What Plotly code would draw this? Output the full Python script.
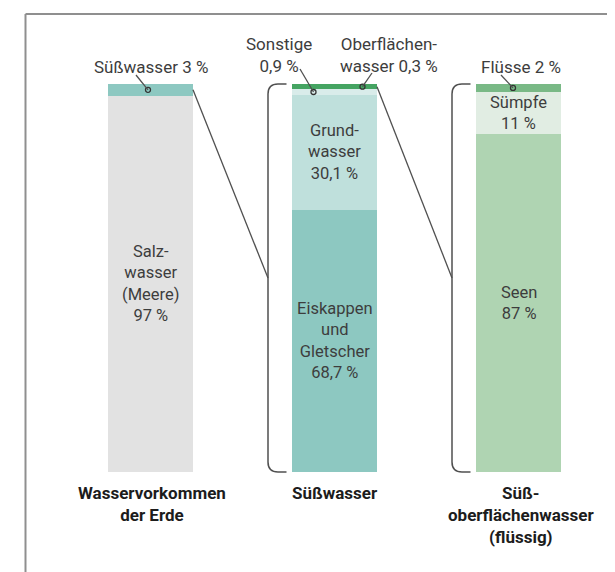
import plotly.graph_objects as go

# ---------------- data ----------------
column_labels = ["Wasservorkommen<br>der Erde", "Süßwasser", "Süß-<br>oberflächenwasser<br>(flüssig)"]

earth_names = ["Salzwasser (Meere)", "Süßwasser"]
earth_values = [97, 3]
earth_inside = ["Salz-<br>wasser<br>(Meere)<br>97 %", None]

fresh_names = ["Eiskappen und Gletscher", "Grundwasser", "Sonstige", "Oberflächenwasser"]
fresh_values = [68.7, 30.1, 0.9, 0.3]
fresh_inside = ["Eiskappen<br>und<br>Gletscher<br>68,7 %", "Grund-<br>wasser<br>30,1 %", None, None]

surface_names = ["Seen", "Sümpfe", "Flüsse"]
surface_values = [87, 11, 2]
surface_inside = ["Seen<br>87 %", "Sümpfe<br>11 %", None]

callout_texts = ["Süßwasser 3 %", "Sonstige<br>0,9 %", "Oberflächen-<br>wasser 0,3 %", "Flüsse 2 %"]

# ---------------- styles ----------------
earth_colors = ["#e2e2e2", "#8dc8c1"]
fresh_colors = ["#8dc8c1", "#bfe0dc", "#d9ecea", "#45a462"]
surface_colors = ["#afd4b2", "#e1ede3", "#79b986"]

PAGE_OFF = 8                        # default page margin around the figure
W, H = 615 - PAGE_OFF, 572 - PAGE_OFF
BAR_C0, BAR_DX = 150.5, 184.0       # screen px centre of first bar, px spacing
BASE_PX, PX_PER_PCT = 472.0, 3.88   # screen px of 0 %, px per 1 %
BAR_W = 85 / BAR_DX
MIN_SHARE = 1.4                     # minimum visible share for tiny segments

def xd(px):  # screen pixel -> x data
    return (px - BAR_C0) / BAR_DX

def yd(py):  # screen pixel -> y data
    return (BASE_PX - py) / PX_PER_PCT

def display(vals):
    v = [max(a, MIN_SHARE) for a in vals]
    s = sum(v)
    return [a * 100 / s for a in v]

columns = [
    (earth_names, earth_values, earth_inside, earth_colors),
    (fresh_names, fresh_values, fresh_inside, fresh_colors),
    (surface_names, surface_values, surface_inside, surface_colors),
]

fig = go.Figure()
annotations = []
shapes = []
mids = []

TXT = "#3d3d3d"
LINE = "#505050"
FONT = "Roboto, 'Open Sans', sans-serif"

label_centres = [152, 335, 521]

for ci, (names, vals, inside, cols) in enumerate(columns):
    disp = display(vals)
    base = 0
    col_mids = []
    for name, v, d, lab, c in zip(names, vals, disp, inside, cols):
        fig.add_trace(go.Bar(
            x=[ci], y=[d], base=[base], width=BAR_W, name=name,
            marker=dict(color=c, line=dict(width=0)),
            hovertemplate=f"{name}: {v} %<extra></extra>".replace(".", ","),
            showlegend=False,
        ))
        col_mids.append(base + d / 2)
        if lab:
            annotations.append(dict(x=ci, y=base + d / 2, text=lab, showarrow=False,
                                    xref="x", yref="y", font=dict(size=16.5, color=TXT, family=FONT),
                                    align="center"))
        base += d
    mids.append(col_mids)
    annotations.append(dict(x=xd(label_centres[ci]), y=yd(481), text=f"<b>{column_labels[ci]}</b>",
                            showarrow=False, xref="x", yref="y", yanchor="top",
                            font=dict(size=17, color="#1c1c1c", family=FONT), align="center"))

# brackets in front of column 1 and 2
for ci in (1, 2):
    xv = ci + xd(BAR_C0 - 66.5)
    xe = ci + xd(BAR_C0 - 48)
    rx, ry = 10 / BAR_DX, 10 / PX_PER_PCT
    yt, yb = 100, 0
    path = (f"M {xe},{yt} L {xv+rx},{yt} Q {xv},{yt} {xv},{yt-ry} "
            f"L {xv},{yb+ry} Q {xv},{yb} {xv+rx},{yb} L {xe},{yb}")
    shapes.append(dict(type="path", path=path, xref="x", yref="y",
                       line=dict(color=LINE, width=1.5)))
    src_mid = mids[ci - 1][-1]
    shapes.append(dict(type="line", xref="x", yref="y",
                       x0=ci - 1 + BAR_W / 2, y0=src_mid, x1=xv, y1=50,
                       line=dict(color=LINE, width=1.3)))

# callouts: (column, segment, text centre px, line start px, dot dx px)
callouts = [
    (0, 1, (150.5, 67), (136, 75), -2.5),
    (1, 2, (278.5, 55), (300, 69), -21),
    (1, 3, (388.5, 55), (372, 73), 28),
    (2, 2, (521, 67), (501, 75), -5.5),
]
dot_x, dot_y, dot_c = [], [], []
for (ci, si, tpos, lpos, ddx), txt in zip(callouts, callout_texts):
    annotations.append(dict(x=xd(tpos[0]), y=yd(tpos[1]), text=txt, showarrow=False,
                            xref="x", yref="y", font=dict(size=17, color=TXT, family=FONT),
                            align="center"))
    dx_ = ci + ddx / BAR_DX
    dy_ = mids[ci][si]
    shapes.append(dict(type="line", xref="x", yref="y", x0=xd(lpos[0]), y0=yd(lpos[1]),
                       x1=dx_, y1=dy_, line=dict(color=LINE, width=1.3)))
    dot_x.append(dx_)
    dot_y.append(dy_)
    dot_c.append(columns[ci][3][si])

fig.add_trace(go.Scatter(x=dot_x, y=dot_y, mode="markers", hoverinfo="skip", showlegend=False,
                         marker=dict(size=5, color=dot_c, line=dict(color="#333333", width=1.3))))

# frame (top and left), screen px 25.5 / 14
fx = (25.5 - PAGE_OFF) / W
fy = 1 - (14 - PAGE_OFF) / H
shapes.append(dict(type="line", xref="paper", yref="paper", x0=fx, x1=1, y0=fy, y1=fy,
                   line=dict(color="#8f8f8f", width=2)))
shapes.append(dict(type="line", xref="paper", yref="paper", x0=fx, x1=fx, y0=0, y1=fy,
                   line=dict(color="#8f8f8f", width=2)))

fig.update_layout(
    width=W, height=H, margin=dict(l=0, r=0, t=0, b=0),
    paper_bgcolor="white", plot_bgcolor="white",
    barmode="overlay", bargap=0,
    xaxis=dict(range=[xd(PAGE_OFF), xd(615)], visible=False, fixedrange=True),
    yaxis=dict(range=[yd(572), yd(PAGE_OFF)], visible=False, fixedrange=True),
    annotations=annotations, shapes=shapes,
    font=dict(family=FONT),
)

fig.write_html("out.html")
